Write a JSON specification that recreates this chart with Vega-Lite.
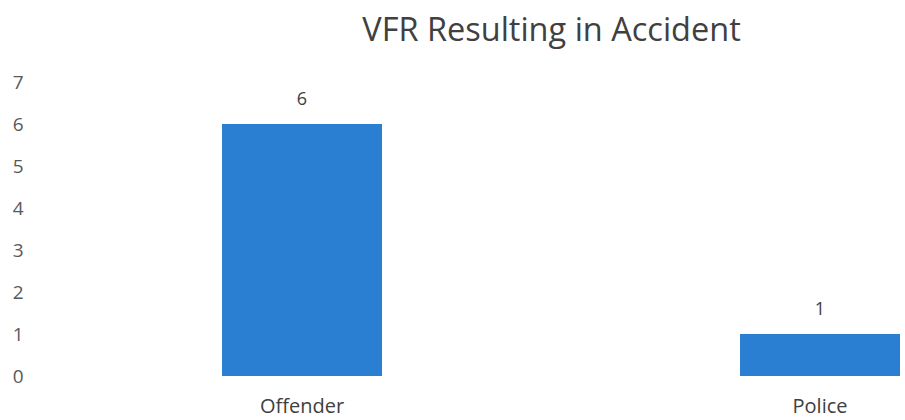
{
  "$schema": "https://vega.github.io/schema/vega-lite/v6.json",
  "autosize": "none",
  "width": 863,
  "height": 294,
  "padding": {"left": 40, "top": 82, "right": 2, "bottom": 44},
  "background": "white",
  "title": {
    "text": "VFR Resulting in Accident",
    "font": "Open Sans",
    "fontSize": 32.5,
    "fontWeight": "normal",
    "color": "#404040",
    "anchor": "middle",
    "frame": "group",
    "baseline": "alphabetic",
    "offset": 0,
    "dx": 80
  },
  "data": {
    "values": [
      {"party": "Offender", "count": 6},
      {"party": "Police", "count": 1}
    ]
  },
  "encoding": {
    "x": {
      "field": "party",
      "type": "nominal",
      "sort": null,
      "scale": {"paddingInner": 0.6911, "paddingOuter": 0.17857, "align": 0.9838},
      "axis": {
        "title": null,
        "labelAngle": 0,
        "domain": false,
        "ticks": false,
        "grid": false,
        "labelFont": "Open Sans",
        "labelFontSize": 20,
        "labelColor": "#404040",
        "labelPadding": 20
      }
    },
    "y": {
      "field": "count",
      "type": "quantitative",
      "scale": {"domain": [0, 7], "nice": false},
      "axis": {
        "title": null,
        "values": [0, 1, 2, 3, 4, 5, 6, 7],
        "domain": false,
        "ticks": false,
        "grid": false,
        "labelFont": "Open Sans",
        "labelFontSize": 19,
        "labelColor": "#595959",
        "labelPadding": 17
      }
    }
  },
  "layer": [
    {"mark": {"type": "bar", "color": "#2a7fd2"}},
    {
      "mark": {
        "type": "text",
        "baseline": "alphabetic",
        "dy": -19,
        "font": "Open Sans",
        "fontSize": 18,
        "color": "#404040"
      },
      "encoding": {"text": {"field": "count", "type": "quantitative"}}
    }
  ],
  "config": {"view": {"stroke": null}}
}
